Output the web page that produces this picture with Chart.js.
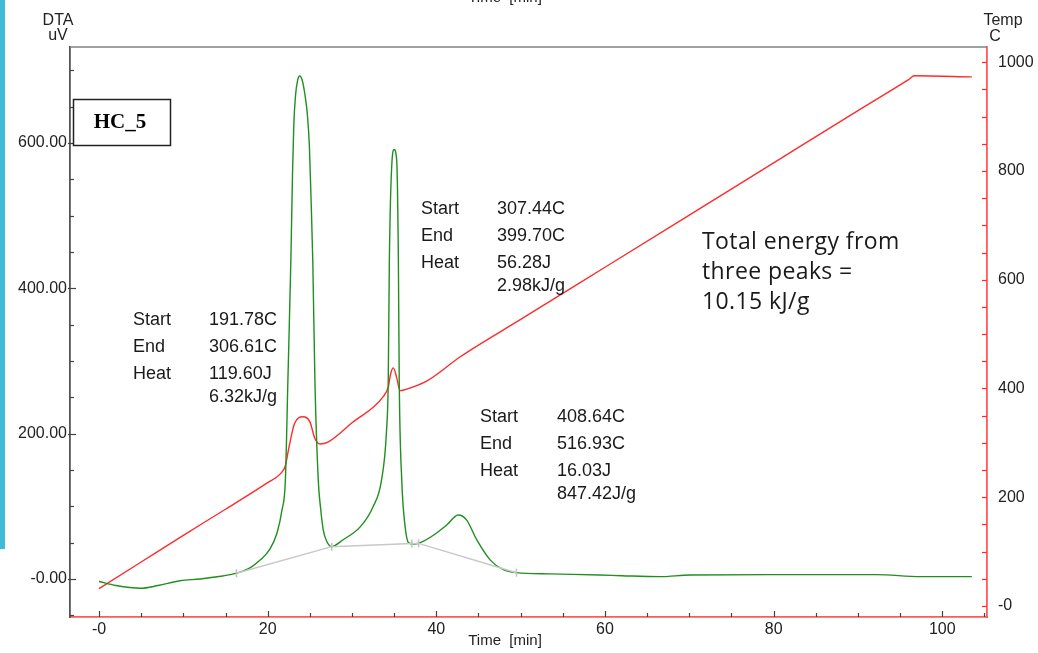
<!DOCTYPE html>
<html>
<head>
<meta charset="utf-8">
<script src="https://cdn.jsdelivr.net/npm/chart.js@4.4.1/dist/chart.umd.min.js"></script>
<style>
  html, body { margin: 0; padding: 0; background: #fff; }
  #wrap { position: relative; width: 1038px; height: 653px; }
</style>
</head>
<body>
<div id="wrap"><canvas id="myChart" width="1038" height="653"></canvas></div>
<script>
// DTA signal (time in min, uV)
const dtaTime = [0, 2, 4.9, 7, 9.6, 12, 14, 16.3, 18, 19.1, 20.2, 21.1, 21.7, 22.1, 22.4, 22.75, 22.95, 23.1, 23.3, 23.55, 23.8, 24.1, 24.4, 24.7, 24.95, 25.15, 25.35,
  25.6, 26.0, 26.3, 26.6, 27.0, 27.6,
  28.9, 31.0, 32.5, 33.5, 34.1, 34.3, 34.43, 34.75, 35.0, 35.3, 35.5, 35.6, 35.9, 36.3, 36.7, 37.3, 38.1, 39.7, 41.2, 42.6, 43.6, 44.8,
  46.4, 48.0, 49.5, 53.5, 59.4, 62, 66.5, 70.1, 80.8, 92.2, 97.4, 103.5];
const dtaValues = [-3.5, -9, -12.8, -9, -2.5, 0, 3, 8, 16, 26, 40, 63, 95, 136, 274, 438, 560, 625, 665, 686, 692, 686, 668, 640, 595, 520, 438,
  274, 136, 95, 67, 52, 44.5,
  53.7, 72, 99.5, 136, 205, 274, 438, 576, 591, 576, 438, 274, 136, 72, 50, 48, 50, 60.5, 74, 88, 81, 53.7,
  26, 12.4, 8.7, 7, 5.5, 4.5, 3.2, 5.5, 6, 6, 3.2, 3.2];

// sample temperature (time in min, C)
const tempTime = [0, 5, 10, 15, 20, 21.5, 22.1, 22.5, 23.2, 24.2, 25.0, 25.6, 26.2, 27.2, 30, 33.7, 34.3, 34.6, 34.9, 35.3, 35.7, 36.3, 38.9, 42.8,
  50, 60, 70, 80, 90, 96, 96.7, 103.5];
const tempValues = [32, 81, 130, 178, 227, 243, 258, 290, 336, 348, 339, 308, 298, 302, 337, 385, 403, 428, 438, 420, 396, 398, 414, 458,
  527, 623, 719, 815, 911, 968, 975, 973];

// integration baselines under the peaks
const baseTime = [16.3, 27.6, 37.1, 37.9, 49.5];
const baseValues = [8, 44.5, 49, 49, 8.7];

const xTicks = [0, 20, 40, 60, 80, 100];
const dtaTicks = [0, 200, 400, 600];
const tempTicks = [0, 200, 400, 600, 800, 1000];

const peakNotes = [
  { x: 133, vx: 209, y: 320, start: '191.78C', end: '306.61C', heat: '119.60J', spec: '6.32kJ/g' },
  { x: 421, vx: 497, y: 209, start: '307.44C', end: '399.70C', heat: '56.28J', spec: '2.98kJ/g' },
  { x: 480, vx: 557, y: 417, start: '408.64C', end: '516.93C', heat: '16.03J', spec: '847.42J/g' }
];

function pts(xs, ys) {
  return xs.map((v, i) => ({ x: v, y: ys[i] }));
}

const RED = '#ff2b2b';
const GREEN = '#1f8f1f';

// ticks inside the frame, titles and notes
const decor = {
  id: 'decor',
  beforeDraw(chart) {
    const c = chart.ctx;
    c.save();
    c.fillStyle = '#41bad6';
    c.fillRect(0, 0, 5, 549);
    c.restore();
  },
  afterDraw(chart) {
    const c = chart.ctx;
    const a = chart.chartArea;
    const sx = chart.scales.x, sy = chart.scales.y, sr = chart.scales.y2;
    c.save();

    // top frame line
    c.strokeStyle = '#808080';
    c.lineWidth = 1.5;
    c.beginPath();
    c.moveTo(a.left, a.top);
    c.lineTo(a.right, a.top);
    c.stroke();

    c.lineWidth = 1.2;
    c.strokeStyle = '#444';
    for (let v = Math.ceil(sx.min / 5) * 5; v <= sx.max; v += 5) {
      const px = Math.round(sx.getPixelForValue(v)) + 0.5;
      const len = v % 20 === 0 ? 6 : 4;
      c.beginPath();
      c.moveTo(px, a.bottom);
      c.lineTo(px, a.bottom - len);
      c.stroke();
    }
    for (let v = Math.ceil(sy.min / 50) * 50; v <= sy.max; v += 50) {
      const py = Math.round(sy.getPixelForValue(v)) + 0.5;
      const major = v % 200 === 0;
      c.beginPath();
      c.moveTo(a.left - (major ? 2 : 0), py);
      c.lineTo(a.left + (major ? 6 : 4), py);
      c.stroke();
    }
    c.strokeStyle = RED;
    for (let v = Math.ceil(sr.min / 50) * 50; v <= sr.max; v += 50) {
      const py = Math.round(sr.getPixelForValue(v)) + 0.5;
      c.beginPath();
      c.moveTo(a.right - 5, py);
      c.lineTo(a.right, py);
      c.stroke();
    }

    // axis titles
    c.fillStyle = '#222';
    c.font = '16px "Liberation Sans", Arial, sans-serif';
    c.textBaseline = 'middle';
    c.textAlign = 'center';
    c.fillText('DTA', 58, 21);
    c.fillText('uV', 58, 36);
    c.fillText('Temp', 1003, 21);
    c.fillText('C', 995, 37);
    c.font = '15px "Liberation Sans", Arial, sans-serif';
    c.fillText('Time  [min]', 505, 641);
    c.fillText('Time  [min]', 505, -2);

    // sample label box
    c.fillStyle = '#fff';
    c.fillRect(73, 99, 98, 46);
    c.strokeStyle = '#222';
    c.lineWidth = 1.5;
    c.strokeRect(73.5, 99.5, 97, 46);
    c.fillStyle = '#000';
    c.font = 'bold 21px "Liberation Serif", "Times New Roman", serif';
    c.fillText('HC_5', 120, 123);

    // peak notes
    c.font = '18px "Liberation Sans", Arial, sans-serif';
    c.textAlign = 'left';
    c.fillStyle = '#1a1a1a';
    peakNotes.forEach(n => {
      c.fillText('Start', n.x, n.y);
      c.fillText(n.start, n.vx, n.y);
      c.fillText('End', n.x, n.y + 27);
      c.fillText(n.end, n.vx, n.y + 27);
      c.fillText('Heat', n.x, n.y + 54);
      c.fillText(n.heat, n.vx, n.y + 54);
      c.fillText(n.spec, n.vx, n.y + 77);
    });

    c.font = '23px "Open Sans", Lato, sans-serif';
    c.letterSpacing = '0.4px';
    c.fillText('Total energy from', 702, 242);
    c.fillText('three peaks =', 702, 272);
    c.fillText('10.15 kJ/g', 702, 302);
    c.restore();
  }
};

const data = {
  datasets: [
    {
      label: 'Baseline',
      data: pts(baseTime, baseValues),
      yAxisID: 'y',
      borderColor: '#c8c8c8',
      borderWidth: 1.5,
      pointStyle: 'line',
      rotation: 90,
      pointRadius: 4,
      pointBorderColor: '#c0c0c0',
      pointBorderWidth: 1.5,
      tension: 0,
    },
    {
      label: 'DTA',
      data: pts(dtaTime, dtaValues),
      yAxisID: 'y',
      borderColor: GREEN,
      borderWidth: 1.4,
      pointRadius: 0,
      cubicInterpolationMode: 'monotone',
    },
    {
      label: 'Temp',
      data: pts(tempTime, tempValues),
      yAxisID: 'y2',
      borderColor: RED,
      borderWidth: 1.4,
      pointRadius: 0,
      cubicInterpolationMode: 'monotone',
    },
  ],
};

const config = {
  type: 'scatter',
  data: data,
  options: {
    responsive: false,
    animation: false,
    devicePixelRatio: 1,
    showLine: true,
    layout: { padding: { top: 47, left: 0, right: 0, bottom: 0 } },
    plugins: {
      legend: { display: false },
      tooltip: { enabled: false },
    },
    scales: {
      x: {
        type: 'linear',
        min: -3.44,
        max: 105.3,
        afterFit: s => { s.height = 36; },
        afterBuildTicks: s => { s.ticks = xTicks.map(v => ({ value: v })); },
        grid: { display: false, drawTicks: false },
        border: { display: true, color: '#ff5a5a', width: 1.8 },
        ticks: {
          padding: 3,
          color: '#222',
          font: { family: '"Liberation Sans", Arial, sans-serif', size: 16 },
          callback: v => (v === 0 ? '-0' : String(v)),
        },
      },
      y: {
        type: 'linear',
        position: 'left',
        min: -52.3,
        max: 732,
        afterFit: s => { s.width = 70; },
        afterBuildTicks: s => { s.ticks = dtaTicks.map(v => ({ value: v })); },
        grid: { display: false, drawTicks: false },
        border: { display: true, color: '#555', width: 1.8 },
        ticks: {
          padding: 3,
          color: '#222',
          font: { family: '"Liberation Sans", Arial, sans-serif', size: 16 },
          callback: v => (v === 0 ? '-0.00' : v.toFixed(2)),
        },
      },
      y2: {
        type: 'linear',
        position: 'right',
        min: -20.2,
        max: 1028,
        afterFit: s => { s.width = 51; },
        afterBuildTicks: s => { s.ticks = tempTicks.map(v => ({ value: v })); },
        grid: { display: false, drawTicks: false },
        border: { display: true, color: '#ff5a5a', width: 1.8 },
        ticks: {
          padding: 11,
          color: '#222',
          font: { family: '"Liberation Sans", Arial, sans-serif', size: 16 },
          callback: v => (v === 0 ? '-0' : String(v)),
        },
      },
    },
  },
  plugins: [decor],
};

var ctx = document.getElementById('myChart');
var myChart = new Chart(ctx, config);
</script>
</body>
</html>
